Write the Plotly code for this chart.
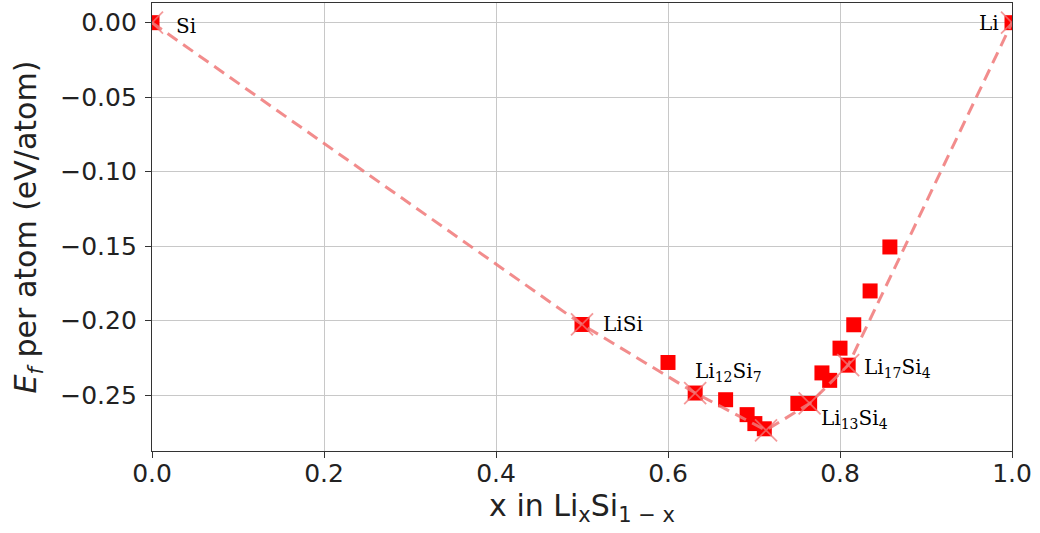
import plotly.graph_objects as go

# All computed structures (x = Li fraction, formation energy eV/atom)
all_x = [0.0, 0.5, 0.6, 0.6316, 0.667, 0.692, 0.701, 0.712, 0.751, 0.7647,
         0.779, 0.788, 0.800, 0.8095, 0.816, 0.835, 0.858, 1.0]
all_y = [0.0, -0.2025, -0.228, -0.2485, -0.253, -0.263, -0.269, -0.2725, -0.2555, -0.2555,
         -0.235, -0.240, -0.2184, -0.2298, -0.2027, -0.180, -0.1505, 0.0]

# Convex hull (stable phases)
hull_x = [0.0, 0.5, 0.6316, 0.714, 0.7647, 0.8095, 1.0]
hull_y = [0.0, -0.2025, -0.2485, -0.2735, -0.2555, -0.2298, 0.0]

# Labelled phases
label_names = ["Si", "LiSi", "Li<sub>12</sub>Si<sub>7</sub>", "Li<sub>13</sub>Si<sub>4</sub>",
               "Li<sub>17</sub>Si<sub>4</sub>", "Li"]
label_x = [0.0, 0.5, 0.6316, 0.7647, 0.8095, 1.0]
label_y = [0.0, -0.2025, -0.2485, -0.2555, -0.2298, 0.0]
label_anchor = ["left", "left", "left", "left", "left", "right"]
label_xshift = [22, 19, -2, 9, 14, -11]
label_yshift = [-3, 0, 21, -16, -3, 0]

x_ticks = [0.0, 0.2, 0.4, 0.6, 0.8, 1.0]
y_ticks = [0.0, -0.05, -0.10, -0.15, -0.20, -0.25]

fig = go.Figure()
fig.add_trace(go.Scatter(
    x=all_x, y=all_y, mode="markers",
    marker=dict(symbol="square", size=15, color="#ff0000",
                line=dict(width=0)),
    showlegend=False, hoverinfo="skip"))
fig.add_trace(go.Scatter(
    x=hull_x, y=hull_y, mode="lines+markers",
    line=dict(color="rgba(240,120,120,0.85)", width=3, dash="12px,7px"),
    marker=dict(symbol="x-thin", size=22,
                line=dict(width=1.8, color="rgba(240,120,120,0.75)")),
    showlegend=False, hoverinfo="skip"))

for n, x, y, a, xs, ys in zip(label_names, label_x, label_y, label_anchor,
                               label_xshift, label_yshift):
    fig.add_annotation(x=x, y=y, text=n, showarrow=False, xanchor=a, yanchor="middle",
                       xshift=xs, yshift=ys,
                       font=dict(family="DejaVu Serif, Liberation Serif, serif",
                                 size=20, color="black"))

axis_common = dict(
    showline=True, linecolor="#333333", linewidth=1.3, mirror=True,
    ticks="outside", ticklen=6, tickcolor="#333333", tickwidth=1.2,
    showgrid=True, gridcolor="#c8c8c8", gridwidth=1.3, zeroline=False,
    tickfont=dict(family="DejaVu Sans", size=25, color="#222222"),
)

fig.update_xaxes(range=[0, 1], tickvals=x_ticks,
                 ticktext=[f"{v:.1f}" for v in x_ticks],
                 ticklabelstandoff=-6,
                 title=dict(text="x in Li<sub>x</sub>Si<sub>1 − x</sub>",
                            font=dict(family="DejaVu Sans", size=30, color="#222222"),
                            standoff=4),
                 **axis_common)
fig.update_yaxes(range=[-0.2874, 0.0132], tickvals=y_ticks,
                 ticktext=[("−" if v < 0 else "") + f"{abs(v):.2f}" for v in y_ticks],
                 ticklabelstandoff=3,
                 title=dict(text="<i>E<sub>f</sub></i> per atom (eV/atom)",
                            font=dict(family="DejaVu Sans", size=30, color="#222222"),
                            standoff=14),
                 **axis_common)

fig.update_layout(width=1040, height=533,
                  margin=dict(l=152, r=28, t=3, b=82, autoexpand=False),
                  plot_bgcolor="white", paper_bgcolor="white")

fig.write_html("out.html", config={"displayModeBar": False},
               post_script="document.body.style.margin='0px';")
